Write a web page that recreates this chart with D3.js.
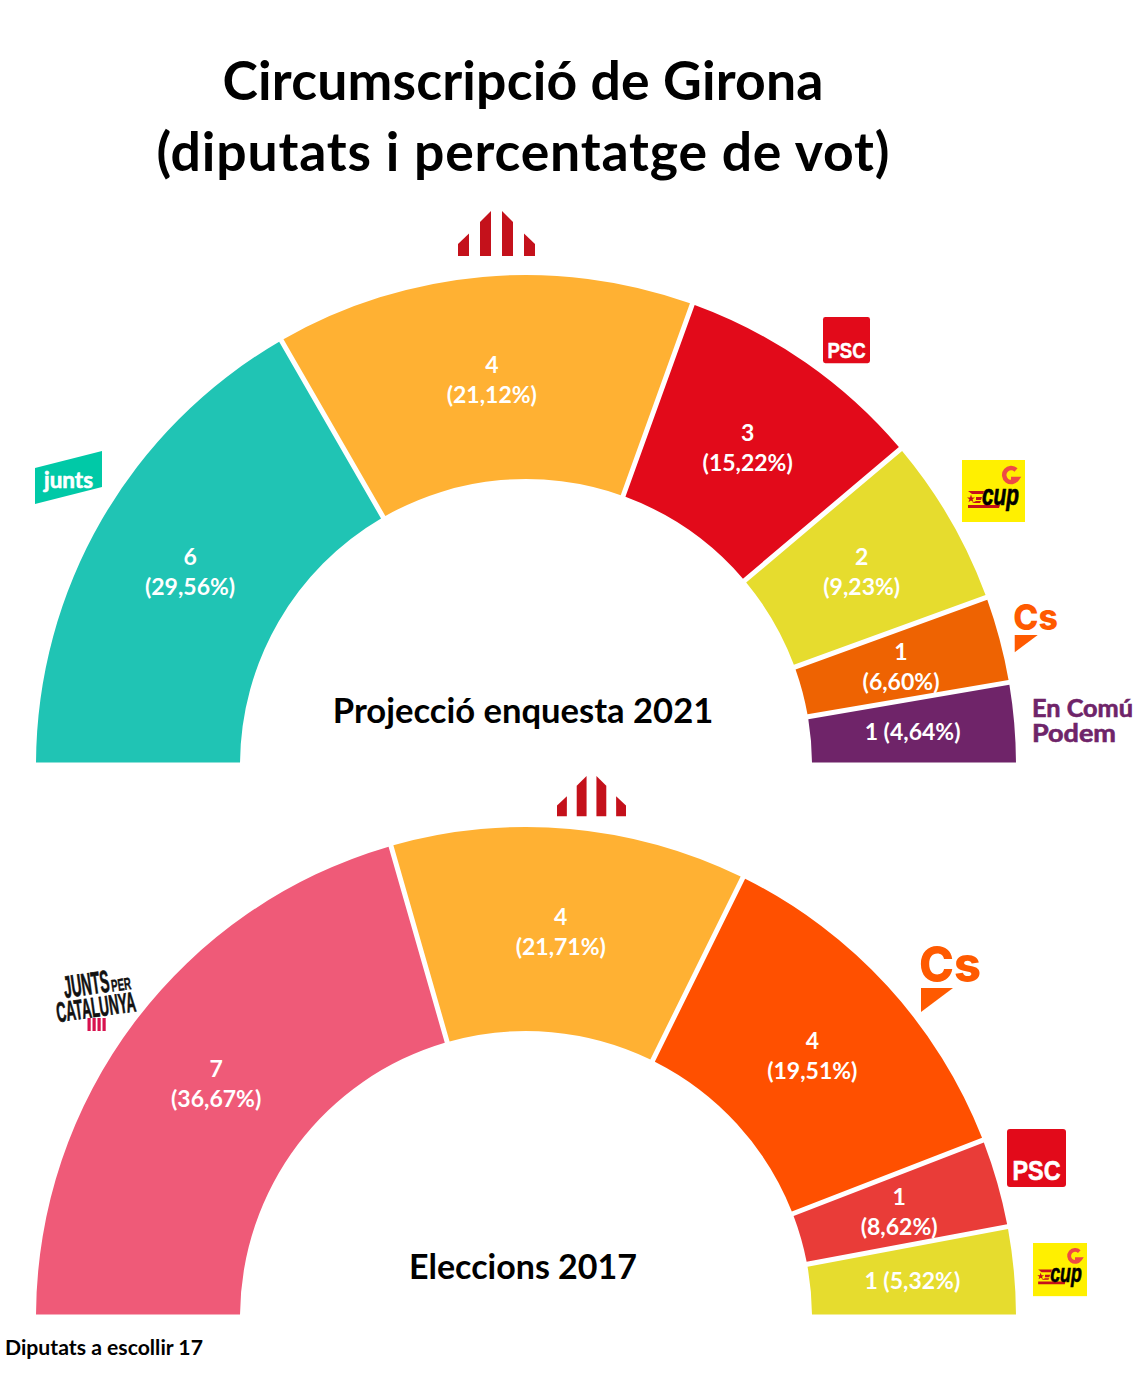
<!DOCTYPE html>
<html>
<head>
<meta charset="utf-8">
<script src="https://cdn.jsdelivr.net/npm/d3@7"></script>
<style>
  html, body { margin: 0; padding: 0; background: #fff; }
  svg { display: block; }
  text { font-family: Lato, "Open Sans", sans-serif; font-weight: 700; }
</style>
</head>
<body>
<div id="chart"></div>
<script>
//Values
var parties2021 = ["Junts", "ERC", "PSC", "CUP", "Cs", "En Comú Podem"];
var seats2021 = [6, 4, 3, 2, 1, 1];
var votes2021 = ["29,56", "21,12", "15,22", "9,23", "6,60", "4,64"];
//degrees of each arc as measured, they do not follow seats or votes exactly
var arcDegrees2021 = [60.8, 50.3, 30, 19.9, 9.8, 9.2];
var colors2021 = ["#20c4b4", "#ffb133", "#e20a1a", "#e6dc2e", "#ee6302", "#6f2469"];

var parties2017 = ["Junts per Catalunya", "ERC", "Cs", "PSC", "CUP"];
var seats2017 = [7, 4, 4, 1, 1];
var votes2017 = ["36,67", "21,71", "19,51", "8,62", "5,32"];
var arcDegrees2017 = [74.8, 42.4, 42.7, 10, 10.1];
var colors2017 = ["#ef5a78", "#ffb133", "#ff5000", "#e93c38", "#e6dc2e"];

var titleLines = ["Circumscripció de Girona", "(diputats i percentatge de vot)"];
var titleWidths = [601, 733];
var footNote = "Diputats a escollir 17";

var width = 1140;
var height = 1386;
var centerX = 526;
var outerR = 490;
var innerR = 286;
var gap = 5;

var svg = d3.select("#chart").append("svg")
  .attr("width", width)
  .attr("height", height);

//Title
svg.selectAll(".title").data(titleLines).enter().append("text")
  .attr("class", "title")
  .attr("x", 523)
  .attr("y", function(d, i) { return 100 + i * 71; })
  .attr("text-anchor", "middle")
  .attr("font-size", 53.5)
  .attr("textLength", function(d, i) { return titleWidths[i]; })
  .text(function(d) { return d; });

//One hemicycle: arcs from the degrees, labels at the centroid
function drawHemicycle(centerY, parties, seats, votes, degrees, colors, caption) {
  var g = svg.append("g").attr("transform", "translate(" + centerX + "," + centerY + ")");
  var pie = d3.pie()
    .sort(null)
    .startAngle(-Math.PI / 2)
    .endAngle(Math.PI / 2)
    .padAngle(gap / ((outerR + innerR) / 2))
    .value(function(d) { return d; });
  var arc = d3.arc()
    .innerRadius(innerR)
    .outerRadius(outerR)
    .padRadius((outerR + innerR) / 2);
  var slices = pie(degrees);

  g.selectAll("path").data(slices).enter().append("path")
    .attr("d", arc)
    .attr("fill", function(d, i) { return colors[i]; });

  slices.forEach(function(s, i) {
    var c = arc.centroid(s);
    var last = i === slices.length - 1;
    var label = g.append("text")
      .attr("text-anchor", "middle")
      .attr("fill", "#fff")
      .attr("font-size", 23);
    if (last) {
      //the last slice is too thin for two lines
      label.attr("x", c[0]).attr("y", c[1] + 8)
        .text(seats[i] + " (" + votes[i] + "%)");
    } else {
      label.append("tspan").attr("x", c[0]).attr("y", c[1] - 6).text(seats[i]);
      label.append("tspan").attr("x", c[0]).attr("y", c[1] + 24).text("(" + votes[i] + "%)");
    }
  });

  g.append("text")
    .attr("x", -3)
    .attr("y", caption.y)
    .attr("text-anchor", "middle")
    .attr("font-size", caption.size)
    .text(caption.text);
}

drawHemicycle(765, parties2021, seats2021, votes2021, arcDegrees2021, colors2021,
  { text: "Projecció enquesta 2021", y: -42, size: 34.6 });
drawHemicycle(1317, parties2017, seats2017, votes2017, arcDegrees2017, colors2017,
  { text: "Eleccions 2017", y: -38, size: 34 });

svg.append("text")
  .attr("x", 5)
  .attr("y", 1355)
  .attr("font-size", 21.2)
  .text(footNote);

//Party logos, redrawn by hand
function ercLogo(x, y, k) {
  var g = svg.append("g").attr("transform", "translate(" + x + "," + y + ") scale(" + k + ")");
  var stripes = ["M0,45V33L11,22.5V45Z", "M22,45V11L33,0V45Z", "M44,45V0L55,11V45Z", "M66,45V22.5L77,33V45Z"];
  g.selectAll("path").data(stripes).enter().append("path")
    .attr("d", function(d) { return d; })
    .attr("fill", "#c4111b");
}

function pscLogo(x, y, size) {
  var k = size / 59;
  var g = svg.append("g").attr("transform", "translate(" + x + "," + y + ") scale(" + k + ")");
  g.append("rect").attr("width", 59).attr("height", 58).attr("rx", 3).attr("fill", "#e20a1a");
  g.append("text").attr("x", 29.5).attr("y", 51).attr("text-anchor", "middle")
    .attr("font-size", 28).attr("fill", "#fff")
    .style("font-family", "'Liberation Sans', sans-serif")
    .attr("stroke", "#fff").attr("stroke-width", 0.6)
    .attr("textLength", 48).attr("lengthAdjust", "spacingAndGlyphs").text("PSC");
}

function cupLogo(x, y, size) {
  var k = size / 63;
  var g = svg.append("g").attr("transform", "translate(" + x + "," + y + ") scale(" + k + ")");
  g.append("rect").attr("width", 63).attr("height", 62).attr("fill", "#fff000");
  //small round mark, top right
  g.append("path").attr("d", "M54,10A7,7,0,1,0,55,19H49")
    .attr("fill", "none").attr("stroke", "#ee4a44").attr("stroke-width", 4.5);
  //flag stripes and star
  g.append("path").attr("d", "M6,31H22L21,34H10ZM14,37H20L19,40H14ZM14,41H19L18,43H10ZM6,45H38L37,48H6Z")
    .attr("fill", "#c4111b");
  g.append("path").attr("d", "M9,34.5L10,37.5H13L10.6,39.3L11.5,42.3L9,40.5L6.5,42.3L7.4,39.3L5,37.5H8Z")
    .attr("fill", "#c4111b");
  g.append("text").attr("x", 20).attr("y", 45).attr("font-size", 29)
    .attr("font-style", "italic").attr("fill", "#000")
    .style("font-family", "'Liberation Sans', sans-serif")
    .attr("stroke", "#000").attr("stroke-width", 0.7)
    .attr("textLength", 37).attr("lengthAdjust", "spacingAndGlyphs").text("cup");
}

function csLogo(x, y, k) {
  var g = svg.append("g").attr("transform", "translate(" + x + "," + y + ") scale(" + k + ")");
  g.append("text").attr("x", -1).attr("y", 36.5).attr("font-size", 50)
    .style("font-family", "Inter, sans-serif").style("font-weight", 800)
    .attr("fill", "#ff5a00").attr("textLength", 62).attr("lengthAdjust", "spacingAndGlyphs").text("Cs");
  g.append("path").attr("d", "M1,43H33L1,67Z").attr("fill", "#ff5a00");
}

ercLogo(458, 211, 1);
ercLogo(557, 776, 69 / 77);
pscLogo(823, 317, 47);
pscLogo(1007, 1129, 59);
cupLogo(962, 460, 63);
cupLogo(1033, 1243, 54);
csLogo(1014, 604, 0.72);
csLogo(920, 945, 1);

//junts
svg.append("path").attr("d", "M35,468L102,451V487L35,504Z").attr("fill", "#00c9a7");
svg.append("text").attr("x", 68.5).attr("y", 488).attr("text-anchor", "middle")
  .attr("font-size", 22).attr("fill", "#fff")
  .attr("stroke", "#fff").attr("stroke-width", 0.6)
  .attr("textLength", 49).attr("lengthAdjust", "spacingAndGlyphs").text("junts");

//En Comu Podem
svg.append("text").attr("x", 1032).attr("y", 717).attr("font-size", 24)
  .attr("fill", "#6f2469").attr("stroke", "#6f2469").attr("stroke-width", 0.6)
  .attr("textLength", 101).attr("lengthAdjust", "spacingAndGlyphs").text("En Comú");
svg.append("text").attr("x", 1032).attr("y", 742).attr("font-size", 24)
  .attr("fill", "#6f2469").attr("stroke", "#6f2469").attr("stroke-width", 0.6)
  .attr("textLength", 84).attr("lengthAdjust", "spacingAndGlyphs").text("Podem");

//Junts per Catalunya
var jxc = svg.append("g").attr("transform", "rotate(-8 97 1000)");
var narrow = "'Liberation Sans Narrow', 'Liberation Sans', sans-serif";
jxc.append("text").attr("x", 65.5).attr("y", 993.5).attr("font-size", 31)
  .style("font-family", narrow).attr("fill", "#111").attr("stroke", "#111").attr("stroke-width", 0.7)
  .attr("textLength", 46).attr("lengthAdjust", "spacingAndGlyphs").text("JUNTS");
jxc.append("text").attr("x", 113).attr("y", 994).attr("font-size", 17)
  .style("font-family", narrow).attr("fill", "#111").attr("stroke", "#111").attr("stroke-width", 0.4)
  .attr("textLength", 20).attr("lengthAdjust", "spacingAndGlyphs").text("PER");
jxc.append("text").attr("x", 55).attr("y", 1016.5).attr("font-size", 28)
  .style("font-family", narrow).attr("fill", "#111").attr("stroke", "#111").attr("stroke-width", 0.7)
  .attr("textLength", 80).attr("lengthAdjust", "spacingAndGlyphs").text("CATALUNYA");
svg.selectAll(".jxcBar").data([0, 1, 2, 3]).enter().append("rect")
  .attr("class", "jxcBar")
  .attr("x", function(d) { return 87.5 + d * 5; })
  .attr("y", 1018)
  .attr("width", 3.2)
  .attr("height", 13)
  .attr("fill", "#d8124f");
</script>
</body>
</html>
